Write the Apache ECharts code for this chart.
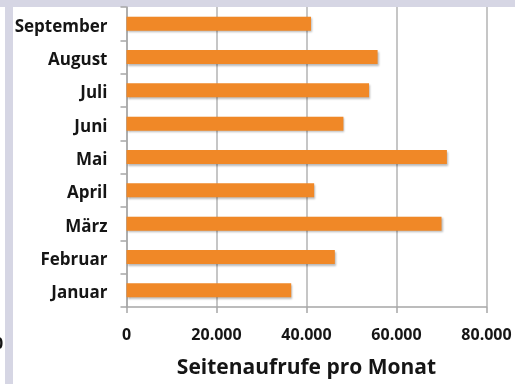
<!DOCTYPE html>
<html>
<head>
<meta charset="utf-8">
<script src="https://cdn.jsdelivr.net/npm/echarts@6/dist/echarts.min.js"></script>
<style>
  html, body { margin: 0; padding: 0; background: #fff; }
  #chart { width: 515px; height: 384px; }
</style>
</head>
<body>
<div id="chart"></div>
<script>
// Monthly page views, January to September
const months = ['Januar', 'Februar', 'März', 'April', 'Mai', 'Juni', 'Juli', 'August', 'September'];
const pageViews = [36600, 46300, 70000, 41700, 71200, 48200, 53900, 55800, 41000];
const xTicks = [0, 20000, 40000, 60000, 80000];

const fmt = v => v === 0 ? '0' : String(v).replace(/\B(?=(\d{3})+(?!\d))/g, '.');
const ink = '#151515';
const font = '"Open Sans", Lato, sans-serif';
const labelFont = { color: ink, fontFamily: font, fontWeight: 'bold', fontSize: 17 };

const chart = echarts.init(document.getElementById('chart'), null, { renderer: 'canvas' });
chart.setOption({
  backgroundColor: '#ffffff',
  animation: false,
  grid: { left: 126.5, right: 28.5, top: 7, bottom: 72, containLabel: false },
  xAxis: {
    type: 'value',
    min: xTicks[0],
    max: xTicks[xTicks.length - 1],
    interval: xTicks[1] - xTicks[0],
    name: 'Seitenaufrufe pro Monat',
    nameLocation: 'middle',
    nameGap: 51,
    nameTextStyle: { color: ink, fontFamily: font, fontWeight: 'bold', fontSize: 21 },
    axisLine: { show: true, lineStyle: { color: '#a6a6a6', width: 1.5 } },
    axisTick: { show: true, length: 6, lineStyle: { color: '#a6a6a6', width: 1.5 } },
    axisLabel: { color: ink, fontFamily: font, fontWeight: 'bold', fontSize: 16, margin: 20, formatter: fmt },
    splitLine: { show: true, lineStyle: { color: '#b3b3b3', width: 1.5 } }
  },
  yAxis: {
    type: 'category',
    data: months,
    axisLine: { show: true, lineStyle: { color: '#a6a6a6', width: 1.5 } },
    axisTick: { show: true, length: 6, lineStyle: { color: '#a6a6a6', width: 1.5 } },
    axisLabel: {
      margin: 19,
      formatter: v => '{m|' + v + '}',
      rich: { m: Object.assign({ padding: [6, 0, 0, 0] }, labelFont) }
    }
  },
  series: [{
    type: 'bar',
    data: pageViews,
    barWidth: 14,
    itemStyle: {
      color: '#f08827',
      shadowColor: 'rgba(0,0,0,0.28)',
      shadowBlur: 2,
      shadowOffsetX: 1,
      shadowOffsetY: 1.5
    }
  }],
  graphic: [
    { type: 'rect', left: 0, top: 0, shape: { width: 515, height: 7 }, style: { fill: '#d6d6e4' }, silent: true },
    { type: 'rect', left: 5, top: 0, shape: { width: 8, height: 384 }, style: { fill: '#d6d6e4' }, silent: true },
    { type: 'text', left: -6, top: 336, style: { text: '0', fill: ink, font: 'bold 16px ' + font }, silent: true }
  ]
});
</script>
</body>
</html>
